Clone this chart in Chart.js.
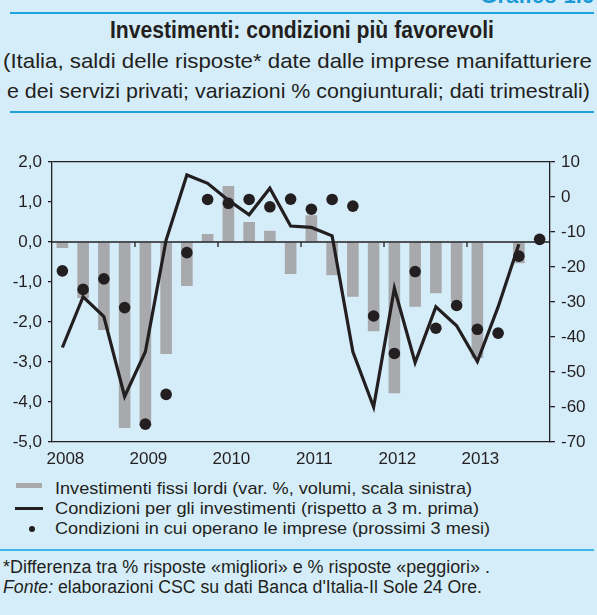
<!DOCTYPE html>
<html>
<head>
<meta charset="utf-8">
<script src="https://cdn.jsdelivr.net/npm/chart.js@4"></script>
<style>
body { margin:0; width:597px; height:615px; background:#d5edf9; position:relative; overflow:hidden; font-family:'Liberation Sans', Arial, sans-serif; color:#231f20; }
.t { position:absolute; white-space:nowrap; transform-origin:0 50%; }
.narrow { font-family:'Liberation Sans Narrow', 'Liberation Sans', sans-serif; }
.hr { position:absolute; background:#1ea3de; }
</style>
</head>
<body>

<span class="t narrow" id="graf" style="right:3px; top:-15px; font-size:22px; font-weight:bold; color:#1b9ad7; line-height:22px; transform-origin:100% 50%;">Grafico 1.6</span>
<div class="hr" style="left:10px; width:584px; top:12px; height:2px;"></div>
<span class="t narrow" data-w="384" style="left:110px; top:17px; font-size:23px; font-weight:bold; line-height:26px;">Investimenti: condizioni più favorevoli</span>
<span class="t narrow" data-w="589" style="left:3px; top:48px; font-size:21px; line-height:26px;">(Italia, saldi delle risposte* date dalle imprese manifatturiere</span>
<span class="t narrow" data-w="583" style="left:7px; top:78px; font-size:21px; line-height:26px;">e dei servizi privati; variazioni % congiunturali; dati trimestrali)</span>
<div class="hr" style="left:10px; width:584px; top:111px; height:2px;"></div>

<div style="position:absolute; left:0; top:140px; width:597px; height:330px;"><canvas id="c" width="597" height="330"></canvas></div>

<div style="position:absolute; left:16px; top:483px; width:26px; height:5px; background:#a7a9ac;"></div>
<span class="t" data-w="417" style="left:55px; top:479px; font-size:17px; line-height:20px;">Investimenti fissi lordi (var. %, volumi, scala sinistra)</span>
<div style="position:absolute; left:15px; top:507px; width:28px; height:3px; background:#231f20;"></div>
<span class="t" data-w="424" style="left:55px; top:499px; font-size:17px; line-height:20px;">Condizioni per gli investimenti (rispetto a 3 m. prima)</span>
<div style="position:absolute; left:29px; top:526px; width:6px; height:6px; border-radius:50%; background:#231f20;"></div>
<span class="t" data-w="435" style="left:55px; top:519px; font-size:17px; line-height:20px;">Condizioni in cui operano le imprese (prossimi 3 mesi)</span>

<div class="hr" style="left:0; width:594px; top:549px; height:2px; background:#3db6ea;"></div>
<span class="t narrow" data-w="487" style="left:3px; top:556px; font-size:18px; line-height:22px;">*Differenza tra % risposte «migliori» e % risposte «peggiori» .</span>
<span class="t narrow" data-w="479" style="left:3px; top:576px; font-size:18px; line-height:22px;"><i>Fonte:</i> elaborazioni CSC su dati Banca d'Italia-Il Sole 24 Ore.</span>

<script>
// trimestri 2008-2013
const trimestri = ['I 2008','II 2008','III 2008','IV 2008','I 2009','II 2009','III 2009','IV 2009',
  'I 2010','II 2010','III 2010','IV 2010','I 2011','II 2011','III 2011','IV 2011',
  'I 2012','II 2012','III 2012','IV 2012','I 2013','II 2013','III 2013','IV 2013'];
const anni = ['2008','2009','2010','2011','2012','2013'];

// investimenti fissi lordi, var. % (scala sinistra)
const investimenti = [-0.15, -1.4, -2.2, -4.65, -4.6, -2.8, -1.1, 0.2, 1.4, 0.5, 0.28, -0.8,
  0.67, -0.83, -1.37, -2.23, -3.78, -1.62, -1.28, -1.5, -2.9, 0, -0.53, null];
// condizioni per gli investimenti (scala destra)
const condInvest = [-43, -28.5, -34.2, -57, -44.2, -12.3, 6.3, 3.9, -0.9, -5.1, 2.5, -8.3,
  -8.7, -11.1, -44.2, -60, -26.1, -47.3, -31.4, -36.8, -47, -31.4, -13.5, null];
// condizioni in cui operano le imprese (scala destra)
const condImprese = [-21.1, -26.4, -23.4, -31.6, -64.9, -56.4, -15.9, -0.7, -1.8, -0.7, -2.8, -0.6,
  -3.5, -0.7, -2.6, -34, -44.7, -21.3, -37.5, -31, -37.8, -38.9, -16.9, -12.1];

const nero = '#231f20';
const fnt = { family:'Liberation Sans', size:17 };

// adatta la larghezza dei testi
document.querySelectorAll('[data-w]').forEach(e => {
  const w = e.getBoundingClientRect().width;
  e.style.transform = 'scaleX(' + (e.dataset.w / w) + ')';
});

const zeroLine = {
  id: 'zeroLine',
  afterDatasetsDraw(chart) {
    const { ctx, chartArea: a, scales: { x, y } } = chart;
    const y0 = y.getPixelForValue(0);
    ctx.save();
    ctx.strokeStyle = nero;
    ctx.lineWidth = 1.3;
    ctx.beginPath();
    ctx.moveTo(a.left, y0); ctx.lineTo(a.right, y0);
    [4, 8, 12, 16, 20].forEach(i => {
      const xm = (x.getPixelForValue(i - 1) + x.getPixelForValue(i)) / 2;
      ctx.moveTo(xm, y0); ctx.lineTo(xm, y0 + 5);
    });
    ctx.stroke();
    ctx.restore();
  }
};

new Chart(document.getElementById('c'), {
  data: {
    labels: trimestri,
    datasets: [
      { type:'bar', data:investimenti, yAxisID:'y', backgroundColor:'#a7a9ac',
        categoryPercentage:1, barPercentage:0.56, order:3 },
      { type:'line', data:condInvest, yAxisID:'y2', borderColor:nero, borderWidth:3.2,
        pointRadius:0, tension:0, order:2 },
      { type:'line', data:condImprese, yAxisID:'y2', showLine:false, pointRadius:5.8,
        pointBackgroundColor:nero, pointBorderWidth:0, order:1 },
    ]
  },
  options: {
    responsive:false,
    animation:false,
    devicePixelRatio:1,
    layout: { padding: { top:22 } },
    plugins: { legend:{ display:false }, tooltip:{ enabled:false } },
    scales: {
      x: {
        offset:true,
        grid: { drawOnChartArea:false, drawTicks:false },
        border: { color:nero, width:1.3 },
        ticks: { autoSkip:false, maxRotation:0, padding:7, labelOffset:3, color:nero, font:fnt,
          callback: (v, i) => i % 4 === 0 ? anni[i / 4] : '' },
        afterFit: s => { s.height = 28 }
      },
      y: {
        position:'left', min:-5, max:2,
        ticks: { stepSize:1, padding:6, color:nero, font:fnt,
          callback: v => v.toFixed(1).replace('.', ',') },
        grid: { color: c => c.tick && c.tick.value === 2 ? nero : 'transparent',
          tickColor:nero, tickLength:4, lineWidth:1.3 },
        border: { color:nero, width:1.3 },
        afterFit: s => { s.width = 52 }
      },
      y2: {
        position:'right', min:-70, max:10,
        ticks: { stepSize:10, padding:6, color:nero, font:fnt },
        grid: { drawOnChartArea:false, tickColor:nero, tickLength:5, lineWidth:1.3 },
        border: { color:nero, width:1.3 },
        afterFit: s => { s.width = 47 }
      }
    }
  },
  plugins: [zeroLine]
});
</script>
</body>
</html>
